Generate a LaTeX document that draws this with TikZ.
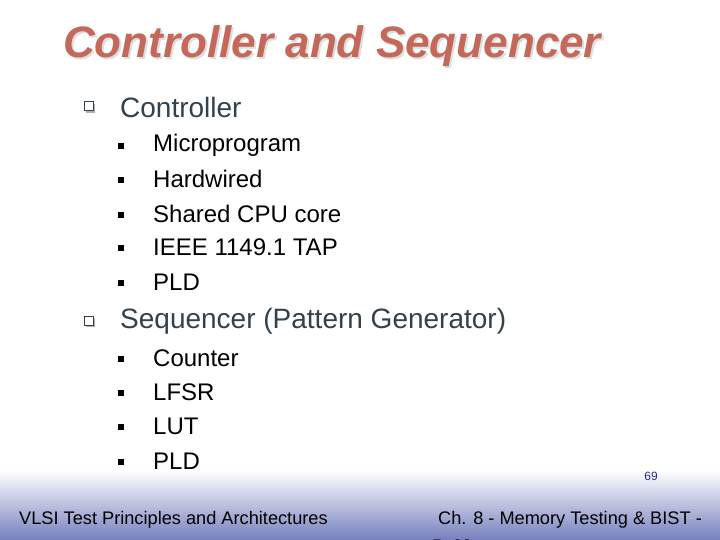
\documentclass[tikz,border=0pt]{standalone}
\usepackage{fontspec}
\setmainfont{Liberation Sans}
\definecolor{titlec}{RGB}{196,104,90}
\definecolor{shadowc}{RGB}{222,222,222}
\definecolor{lvone}{RGB}{50,65,75}
\definecolor{footblue}{RGB}{118,128,190}
\definecolor{pgblue}{RGB}{40,40,170}
\begin{document}
\begin{tikzpicture}[x=1pt,y=-1pt,
  lone/.style={anchor=west,inner sep=0pt,font=\fontsize{28}{30}\selectfont,text=lvone},
  ltwo/.style={anchor=west,inner sep=0pt,font=\fontsize{24}{26}\selectfont,text=black},
  foot/.style={anchor=west,inner sep=0pt,font=\fontsize{18.2}{20}\selectfont,text=black}]
\useasboundingbox (0,0) rectangle (720,540);
\fill[white] (0,0) rectangle (720,540);
\shade[top color=white,bottom color=footblue] (0,470) rectangle (720,540);
% title
\node[anchor=west,inner sep=0pt,font=\fontsize{44}{46}\selectfont\bfseries\itshape,text=shadowc] (tsh) at (65,48) {Controller and Sequencer};
\node[anchor=west,inner sep=0pt,font=\fontsize{44}{46}\selectfont\bfseries\itshape,text=titlec] (title) at (63,46) {Controller and Sequencer};
% level 1 bullets
\foreach \y/\t in {107/Controller,321/Sequencer (Pattern Generator)}{
  \fill[gray!60] (86,\y-3) rectangle (95,\y+6);
  \draw[fill=white,draw=lvone,line width=1pt] (84,\y-5) rectangle (93,\y+4);
  \node[lone] at (120,\y) {\t};
}
\foreach \y/\t in {145/Microprogram,179/Hardwired,214/Shared CPU core,247/IEEE 1149.1 TAP,282/PLD,358/Counter,392/LFSR,426/LUT,461/PLD}{
  \fill (118,\y-2) rectangle (124,\y+4);
  \node[ltwo] at (153,\y) {\t};
}
\node[foot] (f1) at (19,520) {VLSI Test Principles and Architectures};
\node[foot] (f2) at (438,520) {Ch. 8 - Memory Testing \& BIST -};
\node[foot] (f3) at (432,546) {P. 69};
\node[anchor=center,inner sep=0pt,font=\fontsize{12}{13}\selectfont,text=pgblue] (pg) at (651,476) {69};
\end{tikzpicture}
\end{document}
